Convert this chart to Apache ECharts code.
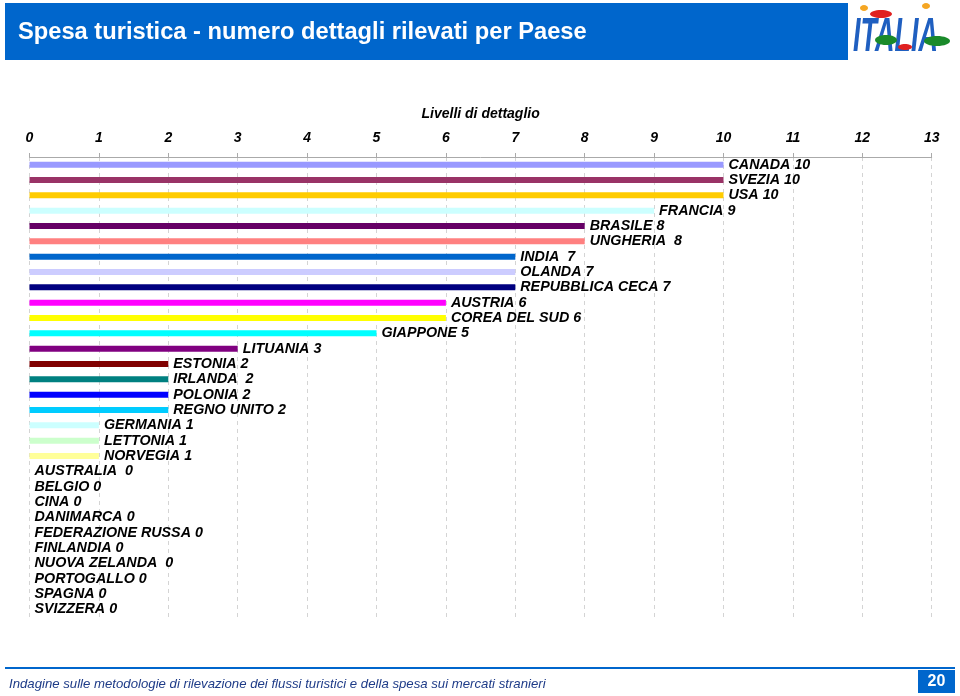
<!DOCTYPE html>
<html>
<head>
<meta charset="utf-8">
<script src="https://cdn.jsdelivr.net/npm/echarts@6/dist/echarts.min.js"></script>
<style>
html,body{margin:0;padding:0;background:#fff;}
#c{width:960px;height:696px;}
</style>
</head>
<body>
<div id="c"></div>
<script>
const countries = ["CANADA","SVEZIA","USA","FRANCIA","BRASILE","UNGHERIA ","INDIA ","OLANDA","REPUBBLICA CECA","AUSTRIA","COREA DEL SUD","GIAPPONE","LITUANIA","ESTONIA","IRLANDA ","POLONIA","REGNO UNITO","GERMANIA","LETTONIA","NORVEGIA","AUSTRALIA ","BELGIO","CINA","DANIMARCA","FEDERAZIONE RUSSA","FINLANDIA","NUOVA ZELANDA ","PORTOGALLO","SPAGNA","SVIZZERA"];
const levels = [10,10,10,9,8,8,7,7,7,6,6,5,3,2,2,2,2,1,1,1,0,0,0,0,0,0,0,0,0,0];
const barColors = ["#9999FF","#993366","#FFCC00","#CCFFFF","#660066","#FF8080","#0066CC","#CCCCFF","#000080","#FF00FF","#FFFF00","#00FFFF","#800080","#800000","#008080","#0000FF","#00CCFF","#CCFFFF","#CCFFCC","#FFFF99","#999999","#999999","#999999","#999999","#999999","#999999","#999999","#999999","#999999","#999999"];
const axisMax = 13;
const title = "Spesa turistica - numero dettagli rilevati per Paese";
const axisTitle = "Livelli di dettaglio";
const footer = "Indagine sulle metodologie di rilevazione dei flussi turistici e della spesa sui mercati stranieri";
const pageNum = "20";

const chart = echarts.init(document.getElementById('c'), null, {renderer:'canvas'});
const font = "'Liberation Sans', Arial, sans-serif";
const blue = "#0066CC";

chart.setOption({
  animation:false,
  backgroundColor:'#fff',
  grid:{left:29.5, right:28.3, top:157, bottom:79},
  xAxis:{
    type:'value', position:'top', min:0, max:axisMax, interval:1,
    name:axisTitle, nameLocation:'middle', nameGap:36,
    nameTextStyle:{fontFamily:font, fontWeight:'bold', fontStyle:'italic', fontSize:14, color:'#000'},
    axisLine:{show:true, lineStyle:{color:'#aaa', width:1}},
    axisTick:{show:true, length:4, lineStyle:{color:'#aaa'}},
    axisLabel:{margin:12, fontFamily:font, fontWeight:'bold', fontStyle:'italic', fontSize:14, color:'#000'},
    splitLine:{show:true, lineStyle:{color:'#d4d4d4', type:[4,4], width:1}}
  },
  yAxis:{
    type:'category', inverse:true, data:countries,
    axisLine:{show:false}, axisTick:{show:false}, axisLabel:{show:false}, splitLine:{show:false}
  },
  series:[{
    type:'bar', barWidth:6,
    data: levels.map((v,i)=>({value:v, itemStyle:{color:barColors[i]}})),
    label:{
      show:true, position:'right', distance:5,
      fontFamily:font, fontWeight:'bold', fontStyle:'italic', fontSize:14.3, color:'#000',
      formatter:(p)=> countries[p.dataIndex] + ' ' + p.value
    }
  }],
  graphic:[
    {type:'rect', shape:{x:5, y:3, width:843, height:57}, style:{fill:blue}},
    {type:'text', x:18, y:32, style:{text:title, fill:'#fff', font:"bold 23.7px 'Liberation Sans', Arial, sans-serif", textVerticalAlign:'middle'}},
    // logo approximation
    {type:'text', x:853, y:38, scaleY:1.75, originX:0, originY:0, style:{text:'ITALIA', fill:'#1F5FC0', font:"italic bold 27px 'Liberation Sans', Arial, sans-serif", textVerticalAlign:'middle'}},
    {type:'ellipse', shape:{cx:864, cy:8, rx:4, ry:3}, style:{fill:'#F5A623'}},
    {type:'ellipse', shape:{cx:926, cy:6, rx:4, ry:3}, style:{fill:'#F5A623'}},
    {type:'ellipse', shape:{cx:881, cy:14, rx:11, ry:4}, style:{fill:'#E02020'}},
    {type:'ellipse', shape:{cx:886, cy:40, rx:11, ry:5}, style:{fill:'#1A8A2A'}},
    {type:'ellipse', shape:{cx:937, cy:41, rx:13, ry:5}, style:{fill:'#1A8A2A'}},
    {type:'ellipse', shape:{cx:905, cy:47, rx:7, ry:3}, style:{fill:'#E02020'}},
    // footer
    {type:'line', shape:{x1:5, y1:668, x2:955, y2:668}, style:{stroke:blue, lineWidth:2}},
    {type:'text', x:9, y:684, style:{text:footer, fill:'#1F3C88', font:"italic 13.2px 'Liberation Sans', Arial, sans-serif", textVerticalAlign:'middle'}},
    {type:'rect', shape:{x:918, y:670, width:37, height:23}, style:{fill:blue}},
    {type:'text', x:936.5, y:681.5, style:{text:pageNum, fill:'#fff', font:"bold 16px 'Liberation Sans', Arial, sans-serif", textAlign:'center', textVerticalAlign:'middle'}}
  ]
});
</script>
</body>
</html>
